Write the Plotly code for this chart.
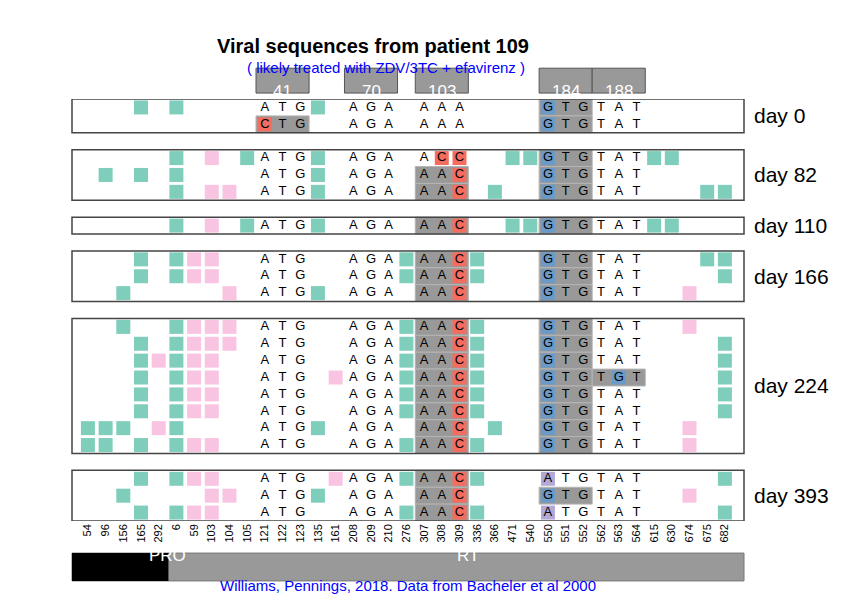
import plotly.graph_objects as go

# positions shown along the x axis (PRO then RT)
positions = ["54", "96", "156", "165", "292", "6", "59", "103", "104", "105", "121", "122", "123",
             "135", "161", "208", "209", "210", "276", "307", "308", "309", "336", "366", "471",
             "540", "550", "551", "552", "562", "563", "564", "615", "630", "674", "675", "682"]

# codons displayed: label, first column
codon_labels = ["41", "70", "103", "184", "188"]
codon_cols = [10, 15, 19, 26, 29]
codon_ref = ["ATG", "AGA", "AAA", "ATG", "TAT"]
resistant = ["CTG", "AAC", "GTG", "TGT"]

# row positions, day groups
days = ["day 0", "day 82", "day 110", "day 166", "day 224", "day 393"]
day_rows = [[0, 1], [3, 4, 5], [7], [9, 10, 11], [13, 14, 15, 16, 17, 18, 19, 20], [22, 23, 24]]

row_ids = [0, 1, 3, 4, 5, 7, 9, 10, 11, 13, 14, 15, 16, 17, 18, 19, 20, 22, 23, 24]
row_codons = [
    "ATG AGA AAA GTG TAT", "CTG AGA AAA GTG TAT",
    "ATG AGA ACC GTG TAT", "ATG AGA AAC GTG TAT", "ATG AGA AAC GTG TAT",
    "ATG AGA AAC GTG TAT",
    "ATG AGA AAC GTG TAT", "ATG AGA AAC GTG TAT", "ATG AGA AAC GTG TAT",
    "ATG AGA AAC GTG TAT", "ATG AGA AAC GTG TAT", "ATG AGA AAC GTG TAT", "ATG AGA AAC GTG TGT",
    "ATG AGA AAC GTG TAT", "ATG AGA AAC GTG TAT", "ATG AGA AAC GTG TAT", "ATG AGA AAC GTG TAT",
    "ATG AGA AAC ATG TAT", "ATG AGA AAC GTG TAT", "ATG AGA AAC ATG TAT",
]
row_marks = [
    "t3 t5 t13", "",
    "t5 p7 t9 t13 t24 t25 t32 t33", "t1 t3 t5 t13", "t5 p7 p8 t13 t23 t35 t36",
    "t5 p7 t9 t13 t24 t25 t32 t33",
    "t3 t5 p6 p7 t18 t22 t35 t36", "t3 t5 p6 p7 t18 t22 t36", "t2 p8 t13 p34",
    "t2 t5 p6 p7 p8 t18 t22 p34", "t3 t5 p6 p7 p8 t18 t22 t36", "t3 p4 t5 p6 p7 t18 t22 t36",
    "t3 t5 p6 p7 p14 t18 t22 t36", "t3 t5 p6 p7 t18 t22 t36", "t3 t5 p6 p7 t18 t22 t36",
    "t0 t1 t2 p4 t5 t13 t23 p34", "t0 t1 t3 t5 p6 p7 t18 t22 p34",
    "t3 t5 p6 p7 p14 t18 t22 t36", "t2 p7 p8 t13 p34", "t3 t5 p6 p7 t18 t22 t36",
]
reverted = [(22, 26), (24, 26)]

TEAL = "#7fcdbb"
PINK = "#f9c4e1"
BASE_COL = {"C": "#f46d5e", "G": "#6a9bc8", "A": "#b3a9d6", "T": "#f46d5e"}
GREY = "#999999"

fig = go.Figure()
shapes = []

mx = {"t": ([], []), "p": ([], [])}
tx, ty, tt = [], [], []
bx, by, bc = [], [], []
for r, cod, mk in zip(row_ids, row_codons, row_marks):
    for m in mk.split():
        mx[m[0]][0].append(int(m[1:]))
        mx[m[0]][1].append(r)
    for k, c in enumerate(cod.split()):
        c0 = codon_cols[k]
        if c in resistant:
            shapes.append(dict(type="rect", xref="x", yref="y", x0=c0 - 0.5, x1=c0 + 2.5,
                               y0=r - 0.5, y1=r + 0.5, fillcolor=GREY,
                               line=dict(color="#b5b5b5", width=1), layer="below"))
        for j, b in enumerate(c):
            col = c0 + j
            tx.append(col); ty.append(r); tt.append(b)
            if (r, col) in reverted:
                bx.append(col); by.append(r); bc.append(BASE_COL["A"])
            elif b != codon_ref[k][j]:
                bx.append(col); by.append(r); bc.append(BASE_COL[b])

for key, colr in [("t", TEAL), ("p", PINK)]:
    fig.add_trace(go.Scatter(x=mx[key][0], y=mx[key][1], mode="markers",
                             marker=dict(symbol="square", size=14, color=colr, line=dict(width=0)),
                             hoverinfo="skip"))
fig.add_trace(go.Scatter(x=bx, y=by, mode="markers",
                         marker=dict(symbol="square", size=14, color=bc, line=dict(width=0)),
                         hoverinfo="skip"))
fig.add_trace(go.Scatter(x=tx, y=ty, mode="text", text=tt,
                         textfont=dict(family="Liberation Sans", size=13, color="black"),
                         hoverinfo="skip"))

annotations = []
# day panels
for d, rows in zip(days, day_rows):
    shapes.append(dict(type="rect", xref="paper", yref="y", x0=0, x1=1,
                       y0=rows[0] - 0.5, y1=rows[-1] + 0.5,
                       line=dict(color="#444444", width=1.5)))
    annotations.append(dict(text=d, xref="paper", yref="y", x=1.012, xanchor="left",
                            y=(rows[0] + rows[-1]) / 2, showarrow=False,
                            font=dict(size=21, color="black")))

# codon headers
for lab, c0 in zip(codon_labels, codon_cols):
    shapes.append(dict(type="rect", xref="x", yref="paper", x0=c0 - 0.5, x1=c0 + 2.5,
                       y0=1.014, y1=1.073, fillcolor=GREY, line=dict(color="#555555", width=1)))
    annotations.append(dict(text=lab, xref="x", yref="paper", x=c0 + 1, y=1.044,
                            showarrow=False, font=dict(size=17, color="white")))

# gene bar
shapes.append(dict(type="rect", xref="paper", yref="paper", x0=0, x1=1, y0=-0.142, y1=-0.076,
                   fillcolor=GREY, line=dict(color="#777777", width=1)))
shapes.append(dict(type="rect", xref="paper", yref="paper", x0=0, x1=(4.55 + 0.9) / 37.98,
                   y0=-0.142, y1=-0.076, fillcolor="black", line=dict(width=0)))
annotations.append(dict(text="PRO", xref="x", yref="paper", x=4.5, y=-0.109, showarrow=False,
                        font=dict(size=17, color="white")))
annotations.append(dict(text="RT", xref="x", yref="paper", x=21.5, y=-0.109, showarrow=False,
                        font=dict(size=17, color="white")))

annotations.append(dict(text="<b>Viral sequences from patient 109</b>", xref="paper", yref="paper",
                        x=0.448, y=1.156, showarrow=False, font=dict(size=20, color="black")))
annotations.append(dict(text="( likely treated with ZDV/3TC + efavirenz )", xref="paper",
                        yref="paper", x=0.467, y=1.10, showarrow=False,
                        font=dict(size=15, color="blue")))
annotations.append(dict(text="Williams, Pennings, 2018. Data from Bacheler et al 2000",
                        xref="paper", yref="paper", x=0.5, y=-0.178, showarrow=False,
                        font=dict(size=15, color="blue")))

fig.update_layout(
    width=855, height=600,
    margin=dict(l=64, r=119, t=91, b=87),
    plot_bgcolor="white", paper_bgcolor="white",
    showlegend=False,
    font=dict(family="Liberation Sans", color="black"),
    shapes=shapes, annotations=annotations,
    xaxis=dict(range=[-0.9, 37.08], tickmode="array", tickvals=list(range(len(positions))),
               ticktext=positions, tickangle=-90, tickfont=dict(size=11), showgrid=False,
               zeroline=False, showline=False, ticks="", automargin=False),
    yaxis=dict(range=[24.5, -0.5], showticklabels=False, showgrid=False, zeroline=False,
               showline=False, automargin=False),
)

fig.write_html("out.html")
